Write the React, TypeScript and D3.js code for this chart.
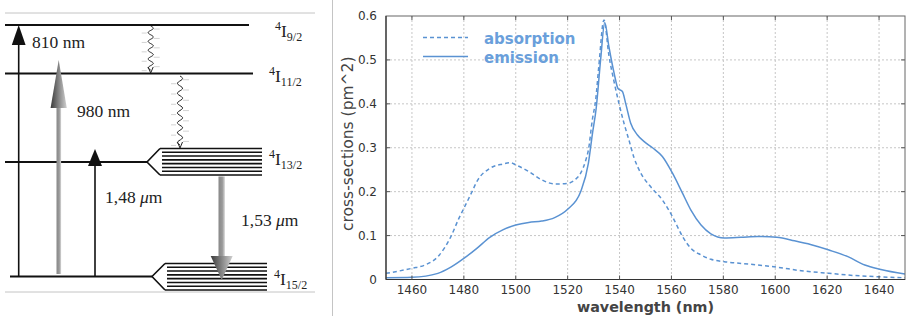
import React from "react";
import * as d3 from "d3";

// absorption (dashed) cross-section, pm^2
const absWavelength = [1450, 1460, 1465, 1470, 1475, 1478, 1480, 1483, 1485, 1490, 1495, 1498, 1500, 1505, 1510, 1515, 1520, 1523, 1525, 1527, 1528, 1529.5, 1530.8, 1532, 1534, 1535.9, 1537.9, 1539.8, 1541.7, 1543.6, 1545.6, 1548.2, 1552, 1556.5, 1560.4, 1564.3, 1567.5, 1571.4, 1575.2, 1580.4, 1590.7, 1600.6, 1610, 1620.7, 1630.6, 1640.7, 1650];
const absValues = [0.014, 0.0255, 0.033, 0.052, 0.0975, 0.138, 0.162, 0.198, 0.223, 0.253, 0.263, 0.266, 0.261, 0.246, 0.227, 0.2175, 0.219, 0.228, 0.242, 0.272, 0.295, 0.363, 0.409, 0.485, 0.591, 0.51, 0.45, 0.4, 0.356, 0.318, 0.277, 0.242, 0.211, 0.181, 0.143, 0.0975, 0.071, 0.056, 0.046, 0.0405, 0.0346, 0.028, 0.02, 0.014, 0.009, 0.006, 0.004];

// emission (solid) cross-section, pm^2
const emWavelength = [1450, 1460, 1470, 1475, 1480, 1485, 1490, 1495, 1500, 1505, 1510, 1515, 1520, 1525, 1528, 1529.5, 1531, 1532.7, 1534.3, 1535.9, 1537.9, 1539.4, 1541.1, 1542.4, 1544.3, 1546.9, 1549.5, 1552.7, 1556.5, 1560.4, 1564.3, 1567.5, 1571.4, 1575.2, 1580.4, 1586.8, 1593.3, 1600.6, 1607.4, 1613.9, 1620.7, 1628, 1634.5, 1640.7, 1650];
const emValues = [0.004, 0.005, 0.014, 0.028, 0.048, 0.071, 0.096, 0.113, 0.124, 0.13, 0.133, 0.141, 0.16, 0.2, 0.265, 0.33, 0.39, 0.5, 0.585, 0.53, 0.47, 0.435, 0.428, 0.4, 0.356, 0.329, 0.314, 0.3, 0.28, 0.242, 0.196, 0.158, 0.124, 0.104, 0.0945, 0.096, 0.098, 0.096, 0.088, 0.079, 0.067, 0.052, 0.033, 0.023, 0.0125];

const xTicks = [1460, 1480, 1500, 1520, 1540, 1560, 1580, 1600, 1620, 1640];
const yTicks = [0, 0.1, 0.2, 0.3, 0.4, 0.5, 0.6];
const seriesNames = ["absorption", "emission"];

const BLUE = "#5a92d2";
const AX = "DejaVu Sans, Verdana, sans-serif";
const SERIF = "Liberation Serif, Times New Roman, serif";

function Wavy({ x0, y0, y1, periods }: { x0: number; y0: number; y1: number; periods: number }) {
  const n = 80;
  const pts: [number, number][] = d3.range(n + 1).map((i) => {
    const t = i / n;
    return [x0 + 2.6 * Math.sin(t * periods * 2 * Math.PI), y0 + t * (y1 - y0 - 3)];
  });
  const path = d3.line()(pts) || "";
  const ticks = d3.range(periods).map((i) => y0 + ((i + 0.75) / periods) * (y1 - y0));
  return (
    <g>
      {ticks.map((ty, i) => (
        <g key={i} stroke="#c8c8c8" strokeWidth={0.8}>
          <line x1={x0 + 3} x2={x0 + 9} y1={ty - 4} y2={ty - 4} />
          <line x1={x0 - 9} x2={x0 - 4} y1={ty} y2={ty} />
        </g>
      ))}
      <path d={path} fill="none" stroke="#222" strokeWidth={1} />
      <path d={`M${x0 - 2.5},${y1 - 6} L${x0},${y1} L${x0 + 2.5},${y1 - 6}`} fill="none" stroke="#222" strokeWidth={1} />
    </g>
  );
}

function Bundle({ px, py, x0, x1, top, bottom, count }: { px: number; py: number; x0: number; x1: number; top: number; bottom: number; count: number }) {
  const ys = d3.range(count).map((i) => top + (i * (bottom - top)) / (count - 1));
  return (
    <g stroke="#111" strokeWidth={1.6} fill="none">
      <path d={`M${x0},${top} L${px},${py} L${x0},${bottom}`} />
      {ys.map((yy, i) => (
        <line key={i} x1={i === 0 || i === count - 1 ? x0 : x0 + 2} x2={x1} y1={yy} y2={yy} />
      ))}
    </g>
  );
}

function Term({ x, y, sub }: { x: number; y: number; sub: string }) {
  return (
    <text x={x} y={y} fontFamily={SERIF} fontSize={17.5} fill="#222">
      <tspan fontSize={12} dy={-7}>4</tspan>
      <tspan dy={7}>I</tspan>
      <tspan fontSize={12} dy={4}>{sub}</tspan>
    </text>
  );
}

function Diagram() {
  return (
    <g>
      <defs>
        <linearGradient id="gh" x1="0" x2="1" y1="0" y2="0">
          <stop offset="0" stopColor="#3a3a3a" />
          <stop offset="1" stopColor="#d0d0d0" />
        </linearGradient>
        <linearGradient id="gs" x1="0" x2="1" y1="0" y2="0">
          <stop offset="0" stopColor="#888" />
          <stop offset="0.6" stopColor="#9a9a9a" />
          <stop offset="1" stopColor="#d8d8d8" />
        </linearGradient>
      </defs>
      <line x1={5} x2={315} y1={13} y2={13} stroke="#c4c4c4" strokeWidth={1} />
      <line x1={5} x2={315} y1={292} y2={292} stroke="#c4c4c4" strokeWidth={1} />

      {/* levels */}
      <g stroke="#111" strokeWidth={1.8}>
        <line x1={5} x2={249} y1={25} y2={25} />
        <line x1={5} x2={253} y1={73.5} y2={73.5} />
        <line x1={5} x2={147} y1={162} y2={162} />
        <line x1={10} x2={152} y1={276.5} y2={276.5} />
      </g>
      <Bundle px={147} py={162} x0={160} x1={262} top={148.5} bottom={175} count={8} />
      <Bundle px={152} py={276.5} x0={165} x1={267} top={263.5} bottom={290} count={8} />

      {/* 810 nm */}
      <line x1={18.7} x2={18.7} y1={44} y2={276.5} stroke="#111" strokeWidth={1.6} />
      <path d="M18.7,25 L11.8,45 L25.6,45 Z" fill="#111" />
      {/* 980 nm */}
      <rect x={56.5} y={106} width={4.6} height={168} fill="url(#gs)" />
      <path d="M58.7,60 L50.6,108 L66.8,108 Z" fill="url(#gh)" />
      {/* 1.48 um */}
      <line x1={95} x2={95} y1={165} y2={276.5} stroke="#111" strokeWidth={1.6} />
      <path d="M95,149 L88,166 L102,166 Z" fill="#111" />
      {/* 1.53 um */}
      <rect x={218.5} y={176.5} width={6.4} height={81} fill="url(#gs)" />
      <path d="M210.7,256 L232.7,256 L221.7,280 Z" fill="url(#gh)" />

      <Wavy x0={150.7} y0={26} y1={73} periods={5} />
      <Wavy x0={180} y0={76} y1={148} periods={7} />

      <g fontFamily={SERIF} fontSize={17.5} fill="#222">
        <text x={32} y={48}>810 nm</text>
        <text x={77} y={117}>980 nm</text>
        <text x={105} y={203}>1,48 <tspan fontStyle="italic">μ</tspan>m</text>
        <text x={241} y={226}>1,53 <tspan fontStyle="italic">μ</tspan>m</text>
      </g>
      <Term x={275} y={37} sub="9/2" />
      <Term x={269} y={82} sub="11/2" />
      <Term x={269} y={165} sub="13/2" />
      <Term x={274} y={285} sub="15/2" />
    </g>
  );
}

function Spectrum() {
  const x = d3.scaleLinear().domain([1450, 1650]).range([386, 905]);
  const y = d3.scaleLinear().domain([0, 0.6]).range([279.5, 16]);
  const line = d3
    .line<[number, number]>()
    .x((d) => x(d[0]))
    .y((d) => y(d[1]))
    .curve(d3.curveMonotoneX);
  const absPath = line(absWavelength.map((w, i) => [w, absValues[i]])) || "";
  const emPath = line(emWavelength.map((w, i) => [w, emValues[i]])) || "";
  const [x0, x1] = x.range();
  const [y0, y1] = y.range();

  return (
    <g>
      <line x1={332.5} x2={332.5} y1={0} y2={316} stroke="#c4c4c4" strokeWidth={1} />
      {/* grid */}
      <g stroke="#c6c6c6" strokeWidth={1} strokeDasharray="2,2">
        {xTicks.map((t) => (
          <line key={t} x1={x(t)} x2={x(t)} y1={y1} y2={y0} />
        ))}
        {yTicks.slice(1, -1).map((t) => (
          <line key={t} x1={x0} x2={x1} y1={y(t)} y2={y(t)} />
        ))}
      </g>
      <clipPath id="plot">
        <rect x={x0} y={y1 - 2} width={x1 - x0} height={y0 - y1 + 2} />
      </clipPath>
      <g clipPath="url(#plot)" fill="none" stroke={BLUE} strokeWidth={1.5}>
        <path d={absPath} strokeDasharray="4,3" />
        <path d={emPath} />
      </g>
      {/* frame + inner ticks */}
      <rect x={x0} y={y1} width={x1 - x0} height={y0 - y1} fill="none" stroke="#666" strokeWidth={1} />
      <line x1={x0} x2={x0} y1={y1} y2={y0} stroke="#333" strokeWidth={1.2} />
      <line x1={x0} x2={x1} y1={y0} y2={y0} stroke="#333" strokeWidth={1.2} />
      <g stroke="#555" strokeWidth={1}>
        {xTicks.map((t) => (
          <g key={t}>
            <line x1={x(t)} x2={x(t)} y1={y0} y2={y0 - 4} />
            <line x1={x(t)} x2={x(t)} y1={y1} y2={y1 + 4} />
          </g>
        ))}
        {yTicks.slice(1, -1).map((t) => (
          <g key={t}>
            <line x1={x0} x2={x0 + 4} y1={y(t)} y2={y(t)} />
            <line x1={x1} x2={x1 - 4} y1={y(t)} y2={y(t)} />
          </g>
        ))}
      </g>
      <g fontFamily={AX} fontSize={12} fill="#333">
        {xTicks.map((t) => (
          <text key={t} x={x(t)} y={294} textAnchor="middle">{t}</text>
        ))}
        {yTicks.map((t) => (
          <text key={t} x={377} y={y(t) + 4} textAnchor="end">{t === 0 ? "0" : t.toFixed(1)}</text>
        ))}
      </g>
      <text x={(x0 + x1) / 2} y={312} textAnchor="middle" fontFamily={AX} fontSize={14.3} fontWeight="bold" fill="#444">
        wavelength (nm)
      </text>
      <text transform={`translate(353,${(y0 + y1) / 2 - 4}) rotate(-90)`} textAnchor="middle" fontFamily={AX} fontSize={15.5} fill="#444">
        cross-sections (pm^2)
      </text>
      {/* legend */}
      <g stroke={BLUE} strokeWidth={1.5}>
        <line x1={423} x2={468} y1={37.5} y2={37.5} strokeDasharray="4,3" />
        <line x1={423} x2={468} y1={56.5} y2={56.5} />
      </g>
      <g fontFamily={AX} fontSize={15} fontWeight="bold" fill="#6a9fdb">
        <text x={484} y={43.5}>{seriesNames[0]}</text>
        <text x={484} y={62.5}>{seriesNames[1]}</text>
      </g>
    </g>
  );
}

export default function App() {
  return (
    <svg width={907} height={318} style={{ position: "absolute", left: 0, top: 0, background: "#fff" }}>
      <rect width={907} height={318} fill="#fff" />
      <Diagram />
      <Spectrum />
    </svg>
  );
}
